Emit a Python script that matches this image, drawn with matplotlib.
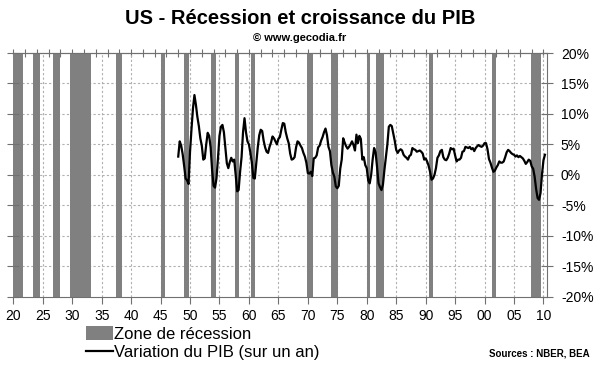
import numpy as np
import matplotlib
matplotlib.use('Agg')
import matplotlib.pyplot as plt
from matplotlib.patches import Patch
from matplotlib.lines import Line2D

# Zones de récession NBER (années décimales)
rec_start = [1920.0, 1923.4, 1926.8, 1929.6, 1937.4, 1945.1, 1948.9, 1953.5, 1957.6, 1960.3,
             1969.9, 1973.9, 1980.0, 1981.5, 1990.5, 2001.2, 2007.9]
rec_end = [1921.6, 1924.5, 1927.9, 1933.2, 1938.5, 1945.8, 1949.8, 1954.4, 1958.3, 1961.1,
           1970.9, 1975.2, 1980.5, 1982.9, 1991.2, 2001.9, 2009.5]

# Variation du PIB sur un an (%), trimestriel à partir de 1948 T1
gdp_yoy = [
    3.0, 5.5, 4.8, 3.4,        # 1948
    1.5, -0.6, -0.9, -1.5,     # 1949
    3.8, 7.5, 10.9, 13.1,      # 1950
    11.5, 9.5, 8.0, 6.0,       # 1951
    4.8, 2.5, 2.7, 5.0,        # 1952
    6.9, 6.4, 4.5, 0.8,        # 1953
    -1.8, -2.1, -0.5, 2.8,     # 1954
    6.4, 7.9, 8.2, 7.0,        # 1955
    4.4, 1.9, 1.1, 2.1,        # 1956
    2.8, 2.2, 2.5, 0.0,        # 1957
    -2.7, -2.5, 0.5, 2.9,      # 1958
    7.0, 9.3, 7.0, 5.5,        # 1959
    5.0, 3.6, 2.0, -0.5,       # 1960
    -0.6, 1.9, 4.5, 6.5,       # 1961
    7.4, 7.2, 5.6, 4.5,        # 1962
    3.8, 3.6, 4.6, 5.3,        # 1963
    6.3, 6.0, 5.5, 5.0,        # 1964
    5.9, 6.2, 7.4, 8.5,        # 1965
    8.4, 7.0, 6.0, 5.2,        # 1966
    3.5, 2.5, 2.6, 2.9,        # 1967
    4.5, 5.5, 5.3, 4.8,        # 1968
    4.4, 3.6, 3.0, 2.0,        # 1969
    0.3, 0.2, 0.5, -0.2,       # 1970
    2.7, 2.8, 3.2, 4.5,        # 1971
    4.8, 5.6, 6.2, 7.0,        # 1972
    7.6, 6.5, 4.6, 3.9,        # 1973
    1.6, 0.4, -0.3, -1.9,      # 1974
    -2.2, -1.8, 1.0, 2.5,      # 1975
    6.0, 5.3, 4.7, 4.3,        # 1976
    4.6, 5.0, 5.5, 4.9,        # 1977
    4.0, 6.6, 5.2, 6.4,        # 1978
    5.9, 2.5, 2.9, 1.6,        # 1979
    1.1, -0.9, -1.4, 0.0,      # 1980
    2.5, 4.4, 3.7, 1.3,        # 1981
    -1.4, -2.0, -2.5, -1.6,    # 1982
    0.8, 2.9, 5.0, 7.9,        # 1983
    8.2, 8.0, 6.8, 5.6,        # 1984
    4.1, 3.6, 4.0, 4.2,        # 1985
    4.0, 3.3, 3.0, 2.8,        # 1986
    2.5, 3.1, 3.3, 4.4,        # 1987
    4.2, 4.1, 3.8, 3.9,        # 1988
    4.0, 3.8, 3.5, 2.5,        # 1989
    2.7, 2.2, 1.5, 0.5,        # 1990
    -0.8, -0.6, 0.0, 1.1,      # 1991
    2.8, 3.2, 3.9, 4.1,        # 1992
    2.9, 2.5, 2.4, 2.8,        # 1993
    3.5, 4.4, 4.2, 4.3,        # 1994
    3.2, 2.2, 2.5, 2.5,        # 1995
    2.8, 3.8, 3.9, 4.6,        # 1996
    4.5, 4.4, 4.6, 4.2,        # 1997
    4.4, 3.9, 4.4, 4.7,        # 1998
    4.9, 4.7, 4.6, 4.8,        # 1999
    5.2, 5.2, 4.2, 2.6,        # 2000
    2.0, 1.2, 0.5, 0.7,        # 2001
    1.2, 1.6, 2.2, 2.0,        # 2002
    2.0, 2.2, 2.9, 3.7,        # 2003
    4.1, 3.9, 3.6, 3.4,        # 2004
    3.3, 3.0, 3.2, 2.9,        # 2005
    3.1, 2.9, 2.7, 2.3,        # 2006
    1.8, 2.1, 2.5, 2.3,        # 2007
    1.4, 1.0, -0.3, -2.3,      # 2008
    -3.8, -4.1, -3.0, 0.1,     # 2009
    2.4, 3.3,                  # 2010
]
t_pib = 1948 + np.arange(len(gdp_yoy)) / 4.0

x_ticks = list(range(1920, 2011, 5))
x_labels = ['%02d' % (a % 100) for a in x_ticks]
y_ticks = list(range(-20, 21, 5))
y_labels = ['%d%%' % v for v in y_ticks]

plt.rcParams['font.family'] = ['Liberation Sans', 'DejaVu Sans']
gris = '#808080'
axe = '#707070'

fig = plt.figure(figsize=(6, 3.72), dpi=100)
ax = fig.add_axes([13.3/600, 1-296.7/372, (547-13.3)/600, (296.7-53)/372])

for a, b in zip(rec_start, rec_end):
    ax.axvspan(a, b, color=gris, lw=0, zorder=1)

ax.plot(t_pib, gdp_yoy, '-', color='black', lw=1.6, zorder=3)

ax.set_xlim(1920, 2010.6)
ax.set_ylim(-20, 20)

# grille pointillée
for g in x_ticks[1:]:
    ax.axvline(g, color='#b0b0b0', lw=0.8, ls=(0, (2, 2)), zorder=0.5)
for g in y_ticks[1:-1]:
    ax.axhline(g, color='#b0b0b0', lw=0.8, ls=(0, (2, 2)), zorder=0.5)

ax.set_xticks(x_ticks)
ax.set_xticklabels(x_labels, fontsize=10)
ax.set_yticks(y_ticks)
ax.set_yticklabels(y_labels, fontsize=10)
ax.yaxis.tick_right()
ax.tick_params(axis='x', direction='out', length=5, color=axe, pad=4)
ax.tick_params(axis='y', direction='inout', length=8, color=axe, pad=6, right=True, left=True)

# petits tirets en haut tous les 2 ans
ax_top = ax.secondary_xaxis('top')
ax_top.set_xticks(list(range(1920, 2011, 2)))
ax_top.set_xticklabels([])
ax_top.tick_params(direction='inout', length=6, color=axe)
ax_top.spines['top'].set_color(axe)

for s in ['bottom', 'right', 'top']:
    ax.spines[s].set_color(axe)
ax.spines['left'].set_visible(False)

fig.text(0.5, 1-18/372, 'US - Récession et croissance du PIB', ha='center', va='center',
         fontsize=14.5, fontweight='bold')
fig.text(0.5, 1-38/372, '© www.gecodia.fr', ha='center', va='center',
         fontsize=8, fontweight='bold')
fig.text(590/600, 1-353/372, 'Sources : NBER, BEA', ha='right', va='center',
         fontsize=7, fontweight='bold')

handles = [Patch(color=gris, lw=0), Line2D([], [], color='black', lw=1.6)]
fig.legend(handles, ['Zone de récession', 'Variation du PIB (sur un an)'],
           loc='upper left', bbox_to_anchor=(86/600, 1-326/372), frameon=False,
           fontsize=12, handlelength=1.6, handleheight=0.9, handletextpad=0.1,
           labelspacing=0.15, borderpad=0, borderaxespad=0)

fig.savefig('out.png', dpi=100)
